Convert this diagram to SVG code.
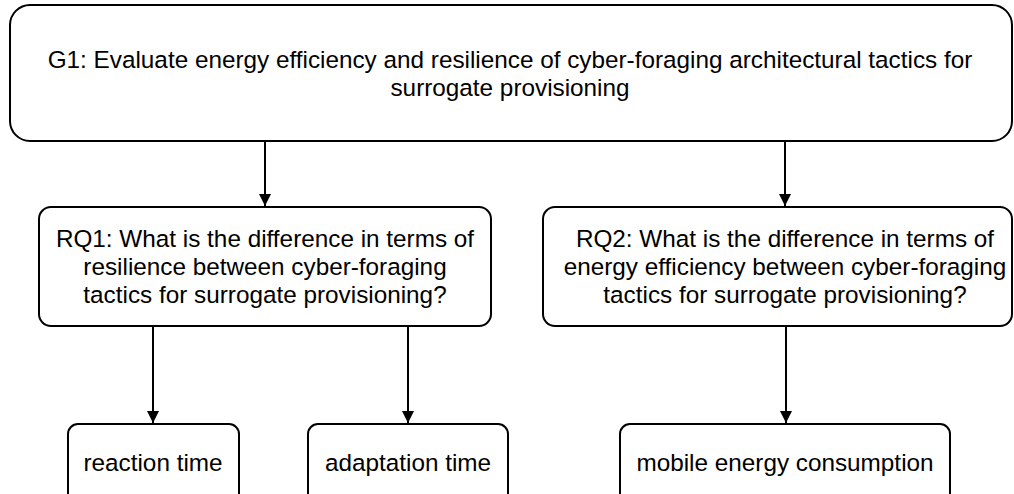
<svg xmlns="http://www.w3.org/2000/svg" width="1014" height="494" viewBox="0 0 1014 494">
  <defs>
    <style>
      .box { fill: #ffffff; stroke: #000000; stroke-width: 2; }
      .lbl { font-family: "Liberation Sans", Arial, Helvetica, sans-serif; font-size: 24.3px; fill: #000000; text-anchor: middle; }
      .edge { fill: none; stroke: #000000; stroke-width: 2; marker-end: url(#arrow); }
    </style>
    <marker id="arrow" viewBox="0 0 12 12" refX="12" refY="6" markerWidth="12" markerHeight="12" markerUnits="userSpaceOnUse" orient="auto">
      <path d="M0,0 L12,6 L0,12 Z" fill="#000000"/>
    </marker>
  </defs>
  <rect width="1014" height="494" fill="#ffffff"/>

  <g id="connectors">
    <path class="edge" d="M265,142 V206"/>
    <path class="edge" d="M785,142 V206"/>
    <path class="edge" d="M153,327 V423"/>
    <path class="edge" d="M408,327 V423"/>
    <path class="edge" d="M786,327 V423"/>
  </g>

  <g id="g1">
    <rect class="box" x="10" y="5" width="1002" height="136" rx="20"/>
    <text class="lbl" x="510" y="68">G1: Evaluate energy efficiency and resilience of cyber-foraging architectural tactics for</text>
    <text class="lbl" x="510" y="96">surrogate provisioning</text>
  </g>

  <g id="rq1">
    <rect class="box" x="39" y="207" width="452" height="119" rx="12"/>
    <text class="lbl" x="265" y="247">RQ1: What is the difference in terms of</text>
    <text class="lbl" x="265" y="275">resilience between cyber-foraging</text>
    <text class="lbl" x="265" y="303">tactics for surrogate provisioning?</text>
  </g>

  <g id="rq2">
    <rect class="box" x="543" y="207" width="469" height="119" rx="12"/>
    <text class="lbl" x="785" y="247">RQ2: What is the difference in terms of</text>
    <text class="lbl" x="785" y="275">energy efficiency between cyber-foraging</text>
    <text class="lbl" x="785" y="303">tactics for surrogate provisioning?</text>
  </g>

  <g id="reaction-time">
    <rect class="box" x="68" y="424" width="171" height="90" rx="10"/>
    <text class="lbl" x="153" y="471">reaction time</text>
  </g>

  <g id="adaptation-time">
    <rect class="box" x="308" y="424" width="200" height="90" rx="10"/>
    <text class="lbl" x="408" y="471">adaptation time</text>
  </g>

  <g id="mobile-energy">
    <rect class="box" x="620" y="424" width="330" height="90" rx="10"/>
    <text class="lbl" x="785" y="471">mobile energy consumption</text>
  </g>
</svg>
